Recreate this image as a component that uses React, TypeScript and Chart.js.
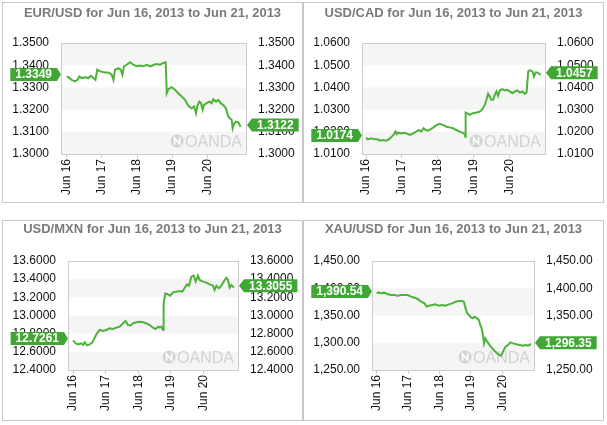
import React, { useEffect, useRef } from 'react';
import { Chart, registerables } from 'chart.js';

Chart.register(...registerables);

// ---------- data ----------
const DAY_LABELS = ['Jun 16', 'Jun 17', 'Jun 18', 'Jun 19', 'Jun 20'];
const DAY_HOURS = [0, 24, 48, 72, 96];

// hours since Jun 16 00:00
const EURUSD_TIME = [0, 1.1, 3.4, 5.7, 7.3, 8.6, 10.2, 12.5, 14.8, 16.4, 18.2, 19.6, 20.9, 22.8, 26.2, 28.4, 30.7, 31.9, 33.0, 35.3, 36.9, 38.0, 39.1, 41.0, 43.2, 45.5, 47.8, 50.1, 52.3, 54.6, 56.9, 59.2, 61.4, 63.7, 66.0, 67.6, 68.3, 69.4, 71.7, 73.9, 76.2, 78.5, 80.8, 83.0, 85.3, 86.9, 88.3, 89.2, 90.5, 91.7, 92.8, 93.7, 95.5, 97.4, 99.0, 100.1, 101.9, 103.5, 105.1, 106.9, 108.7, 110.3, 111.5, 112.6, 113.3, 114.2, 115.6, 117.2, 118.3, 118.8];
const EURUSD_RATE = [1.3349, 1.3346, 1.3334, 1.3327, 1.3334, 1.3349, 1.3342, 1.3346, 1.3342, 1.3352, 1.3342, 1.3334, 1.3380, 1.3372, 1.3367, 1.3367, 1.3357, 1.3334, 1.3380, 1.3387, 1.3380, 1.3357, 1.3395, 1.3402, 1.3413, 1.3402, 1.3395, 1.3398, 1.3395, 1.3402, 1.3395, 1.3401, 1.3405, 1.3402, 1.3410, 1.3413, 1.3274, 1.3292, 1.3301, 1.3289, 1.3274, 1.3259, 1.3244, 1.3217, 1.3206, 1.3214, 1.3184, 1.3217, 1.3236, 1.3229, 1.3199, 1.3221, 1.3229, 1.3236, 1.3229, 1.3247, 1.3236, 1.3244, 1.3229, 1.3221, 1.3206, 1.3169, 1.3161, 1.3154, 1.3116, 1.3136, 1.3146, 1.3142, 1.3127, 1.3122];

const USDCAD_TIME = [0, 1.1, 3.4, 5.6, 7.8, 9.4, 11.2, 13.4, 15.2, 16.7, 18.3, 19.7, 20.5, 21.4, 23.4, 25.7, 27.9, 29.5, 31.3, 33.5, 35.3, 36.8, 38.4, 39.8, 41.3, 42.9, 45.1, 47.3, 49.1, 51.4, 53.6, 55.8, 58.1, 60.3, 62.5, 64.3, 65.9, 66.3, 66.5, 67.4, 69.2, 71.5, 73.7, 75.9, 77.7, 79.3, 80.4, 81.5, 82.6, 83.7, 84.9, 86.0, 87.1, 88.2, 89.3, 91.1, 92.7, 94.2, 96.0, 97.8, 99.4, 100.9, 102.7, 104.5, 106.1, 107.2, 108.3, 109.4, 111.2, 112.1, 113.2, 114.3, 115.7, 116.6];
const USDCAD_RATE = [1.0174, 1.0166, 1.0171, 1.0166, 1.0166, 1.0160, 1.0163, 1.0160, 1.0166, 1.0175, 1.0186, 1.0201, 1.0190, 1.0196, 1.0193, 1.0196, 1.0190, 1.0186, 1.0193, 1.0201, 1.0208, 1.0201, 1.0216, 1.0208, 1.0205, 1.0211, 1.0220, 1.0231, 1.0236, 1.0231, 1.0223, 1.0220, 1.0216, 1.0208, 1.0201, 1.0196, 1.0190, 1.0178, 1.0287, 1.0284, 1.0276, 1.0284, 1.0287, 1.0291, 1.0302, 1.0321, 1.0344, 1.0371, 1.0359, 1.0344, 1.0344, 1.0367, 1.0382, 1.0362, 1.0386, 1.0392, 1.0386, 1.0389, 1.0382, 1.0374, 1.0382, 1.0386, 1.0377, 1.0382, 1.0371, 1.0377, 1.0472, 1.0477, 1.0472, 1.0449, 1.0467, 1.0467, 1.0461, 1.0457];

const USDMXN_TIME = [0, 2.0, 3.7, 6.1, 7.4, 8.6, 10.3, 12.3, 14.2, 15.9, 17.6, 19.6, 22.1, 24.5, 26.9, 29.4, 31.9, 34.3, 36.8, 38.7, 40.4, 42.1, 44.1, 46.6, 49.0, 51.5, 53.9, 56.4, 58.8, 60.8, 62.5, 63.7, 64.9, 66.2, 66.6, 67.9, 69.8, 71.5, 73.5, 75.9, 78.4, 80.4, 82.1, 83.8, 85.3, 87.0, 88.7, 90.2, 91.9, 93.1, 95.6, 98.0, 100.5, 102.9, 104.1, 105.4, 107.3, 109.0, 110.7, 112.7, 113.9, 115.2, 116.4, 117.6, 118.2];
const USDMXN_RATE = [12.7261, 12.6936, 12.6826, 12.6936, 12.6752, 12.7046, 12.6716, 12.6826, 12.7046, 12.7560, 12.8037, 12.8404, 12.8294, 12.8404, 12.8587, 12.8514, 12.8661, 12.8771, 12.9138, 12.9394, 12.8954, 12.8881, 12.9138, 12.9248, 12.9321, 12.9248, 12.9138, 12.8954, 12.8661, 12.8514, 12.8771, 12.8661, 12.8771, 12.8404, 13.1339, 13.2440, 13.2330, 13.2183, 13.2550, 13.2624, 13.2697, 13.2624, 13.3064, 13.3431, 13.3284, 13.4275, 13.4385, 13.3725, 13.4385, 13.3908, 13.3725, 13.3615, 13.3431, 13.3284, 13.2807, 13.3284, 13.2991, 13.3284, 13.3725, 13.4165, 13.3908, 13.3064, 13.3358, 13.3174, 13.3055];

const XAUUSD_TIME = [0, 1.5, 3.3, 5.9, 8.4, 11.0, 13.5, 16.1, 18.6, 21.2, 23.7, 26.3, 28.8, 31.4, 33.9, 36.5, 38.3, 39.8, 42.4, 44.9, 47.5, 50.0, 52.6, 55.1, 57.7, 60.2, 62.8, 65.4, 66.6, 67.9, 69.2, 70.5, 72.2, 73.5, 74.8, 76.1, 78.1, 79.1, 80.2, 81.2, 82.0, 83.0, 84.2, 86.3, 88.3, 90.1, 91.9, 93.4, 95.2, 96.5, 97.8, 98.5, 100.3, 102.1, 104.2, 106.7, 109.3, 111.8, 113.9, 115.7, 117.4, 118.0];
const XAUUSD_PRICE = [1390.54, 1392.5, 1390.7, 1391.9, 1388.8, 1387.6, 1387.6, 1386.4, 1387.6, 1387.6, 1387.6, 1384.6, 1382.7, 1380.3, 1375.4, 1372.3, 1366.2, 1368.0, 1369.3, 1370.5, 1368.0, 1369.3, 1368.0, 1370.5, 1372.3, 1375.4, 1376.6, 1376.6, 1375.4, 1363.1, 1354.0, 1350.9, 1346.0, 1344.8, 1347.9, 1346.0, 1341.7, 1332.6, 1326.4, 1313.0, 1298.9, 1308.1, 1303.2, 1295.8, 1289.8, 1284.9, 1280.6, 1277.5, 1276.3, 1283.7, 1289.8, 1292.8, 1295.8, 1300.8, 1298.9, 1297.1, 1295.8, 1294.6, 1295.8, 1294.6, 1297.1, 1296.35];

// ---------- styles ----------
const LINE_GREEN = '#4db23a';
const CALLOUT_GREEN = '#40a634';
const BAND = '#f5f5f5';
const BORDER = '#cccccc';
const FONT = '"Liberation Sans", Arial, Helvetica, sans-serif';

const fmt4 = (v: number) => Number(v).toFixed(4);
const fmtGold = (v: number) =>
  Number(v).toLocaleString('en-US', { minimumFractionDigits: 2, maximumFractionDigits: 2 });

type Area = { l: number; r: number; t: number; b: number };
type PanelDef = {
  title: string;
  time: number[];
  values: number[];
  yMin: number;
  yMax: number;
  yStep: number;
  fmt: (v: number) => string;
  xMin: number;
  xMax: number;
  left: number;
  top: number;
  area: Area;
  titleY: number;
};

const W = 301;
const H = 201;

const PANELS: PanelDef[] = [
  {
    title: 'EUR/USD for Jun 16, 2013 to Jun 21, 2013',
    time: EURUSD_TIME, values: EURUSD_RATE,
    yMin: 1.30, yMax: 1.35, yStep: 0.01, fmt: fmt4,
    xMin: -3.9, xMax: 122.4,
    left: 2, top: 2, area: { l: 59, r: 244, t: 41, b: 152 }, titleY: 14.5,
  },
  {
    title: 'USD/CAD for Jun 16, 2013 to Jun 21, 2013',
    time: USDCAD_TIME, values: USDCAD_RATE,
    yMin: 1.01, yMax: 1.06, yStep: 0.01, fmt: fmt4,
    xMin: -2.7, xMax: 119.5,
    left: 303, top: 2, area: { l: 59, r: 242, t: 41, b: 152 }, titleY: 14.5,
  },
  {
    title: 'USD/MXN for Jun 16, 2013 to Jun 21, 2013',
    time: USDMXN_TIME, values: USDMXN_RATE,
    yMin: 12.4, yMax: 13.6, yStep: 0.2, fmt: fmt4,
    xMin: -3.7, xMax: 121.3,
    left: 2, top: 220, area: { l: 66, r: 236, t: 41, b: 150 }, titleY: 13,
  },
  {
    title: 'XAU/USD for Jun 16, 2013 to Jun 21, 2013',
    time: XAUUSD_TIME, values: XAUUSD_PRICE,
    yMin: 1250, yMax: 1450, yStep: 50, fmt: fmtGold,
    xMin: -3.6, xMax: 120.2,
    left: 303, top: 220, area: { l: 69, r: 231, t: 41, b: 150 }, titleY: 13,
  },
];

function drawCallout(ctx: CanvasRenderingContext2D, text: string, tipX: number, cy: number, pointsRight: boolean) {
  ctx.save();
  ctx.font = `bold 12px ${FONT}`;
  const tw = ctx.measureText(text).width;
  const bw = tw + 10;
  const h = 13;
  const arrow = pointsRight ? 4 : 5;
  let x0: number, x1: number;
  ctx.beginPath();
  if (pointsRight) {
    x1 = tipX - arrow;
    x0 = x1 - bw;
    ctx.moveTo(x0, cy - h / 2);
    ctx.lineTo(x1, cy - h / 2);
    ctx.lineTo(tipX, cy);
    ctx.lineTo(x1, cy + h / 2);
    ctx.lineTo(x0, cy + h / 2);
  } else {
    x0 = tipX + arrow;
    x1 = x0 + bw;
    ctx.moveTo(x1, cy - h / 2);
    ctx.lineTo(x0, cy - h / 2);
    ctx.lineTo(tipX, cy);
    ctx.lineTo(x0, cy + h / 2);
    ctx.lineTo(x1, cy + h / 2);
  }
  ctx.closePath();
  ctx.fillStyle = CALLOUT_GREEN;
  ctx.fill();
  ctx.fillStyle = '#ffffff';
  ctx.textAlign = 'center';
  ctx.textBaseline = 'middle';
  ctx.fillText(text, (x0 + x1) / 2, cy + 0.5);
  ctx.restore();
}

function makePlugin(p: PanelDef) {
  return {
    id: 'oandaPanel',
    beforeDraw(chart: any) {
      const { ctx, width, height, chartArea: a } = chart;
      const ys = chart.scales.y;
      ctx.save();
      ctx.fillStyle = '#ffffff';
      ctx.fillRect(0, 0, width, height);
      const ticks = ys.ticks;
      for (let i = 0; i < ticks.length - 1; i++) {
        if (i % 2 === 0) {
          const y0 = ys.getPixelForValue(ticks[i].value);
          const y1 = ys.getPixelForValue(ticks[i + 1].value);
          ctx.fillStyle = BAND;
          ctx.fillRect(a.left, y1, a.right - a.left, y0 - y1);
        }
      }
      // watermark
      ctx.font = `16px ${FONT}`;
      ctx.fillStyle = '#d2d2d2';
      ctx.textAlign = 'right';
      ctx.textBaseline = 'alphabetic';
      const tx = a.right - 4;
      const ty = a.bottom - 7;
      ctx.fillText('OANDA', tx, ty);
      const tw = ctx.measureText('OANDA').width;
      const cx = tx - tw - 8;
      const cy = ty - 6;
      ctx.beginPath();
      ctx.arc(cx, cy, 6.5, 0, Math.PI * 2);
      ctx.fill();
      ctx.strokeStyle = '#ffffff';
      ctx.lineWidth = 1.6;
      ctx.beginPath();
      ctx.moveTo(cx - 2.5, cy + 4);
      ctx.lineTo(cx - 2.5, cy - 3);
      ctx.lineTo(cx + 2.5, cy + 3);
      ctx.lineTo(cx + 2.5, cy - 4);
      ctx.stroke();
      ctx.restore();
    },
    afterDatasetsDraw(chart: any) {
      const { ctx, chartArea: a } = chart;
      ctx.save();
      ctx.strokeStyle = BORDER;
      ctx.lineWidth = 1;
      ctx.strokeRect(a.left + 0.5, a.top + 0.5, a.right - a.left, a.bottom - a.top);
      ctx.restore();
    },
    afterDraw(chart: any) {
      const { ctx, width, height, chartArea: a } = chart;
      const ys = chart.scales.y;
      const first = p.values[0];
      const last = p.values[p.values.length - 1];
      drawCallout(ctx, p.fmt(first), a.left, ys.getPixelForValue(first) - 2, true);
      drawCallout(ctx, p.fmt(last), a.right + 1, ys.getPixelForValue(last) - 2, false);
      ctx.save();
      ctx.font = `bold 13px ${FONT}`;
      ctx.fillStyle = '#7a7a7a';
      ctx.textAlign = 'center';
      ctx.textBaseline = 'alphabetic';
      ctx.fillText(p.title, width / 2, p.titleY);
      ctx.strokeStyle = '#c8c8c8';
      ctx.lineWidth = 1;
      ctx.strokeRect(0.5, 0.5, width - 1, height - 1);
      ctx.restore();
    },
  };
}

function PanelChart({ p }: { p: PanelDef }) {
  const ref = useRef<HTMLCanvasElement | null>(null);
  useEffect(() => {
    if (!ref.current) return;
    const tickFont = { family: FONT, size: 12 };
    const yCommon = (pos: 'left' | 'right', widthFn: () => number) => ({
      type: 'linear' as const,
      position: pos,
      min: p.yMin,
      max: p.yMax,
      ticks: {
        stepSize: p.yStep,
        padding: 4,
        font: tickFont,
        color: '#111111',
        callback: (v: any) => p.fmt(Number(v)),
      },
      grid: { display: false },
      border: { display: false },
      afterFit: (s: any) => {
        s.width = widthFn();
      },
    });
    const chart = new Chart(ref.current, {
      type: 'line',
      data: {
        datasets: [
          {
            data: p.time.map((t, i) => ({ x: t, y: p.values[i] })),
            borderColor: LINE_GREEN,
            borderWidth: 2,
            pointRadius: 0,
            tension: 0,
            fill: false,
            yAxisID: 'y',
          },
        ],
      },
      options: {
        responsive: false,
        animation: false,
        devicePixelRatio: 1,
        layout: { padding: { top: p.area.t, left: 0, right: 0, bottom: 0 } },
        plugins: {
          legend: { display: false },
          tooltip: { enabled: false },
          title: { display: false },
        },
        scales: {
          x: {
            type: 'linear',
            min: p.xMin,
            max: p.xMax,
            afterBuildTicks: (s: any) => {
              s.ticks = DAY_HOURS.map((v) => ({ value: v }));
            },
            afterFit: (s: any) => {
              s.height = H - p.area.b;
            },
            ticks: {
              autoSkip: false,
              minRotation: 90,
              maxRotation: 90,
              padding: 1,
              font: tickFont,
              color: '#111111',
              callback: (_v: any, i: number) => DAY_LABELS[i],
            },
            grid: { display: true, drawOnChartArea: false, drawTicks: true, tickLength: 4, color: BORDER },
            border: { display: false },
          },
          y: yCommon('left', () => p.area.l),
          y2: yCommon('right', () => W - p.area.r),
        },
      },
      plugins: [makePlugin(p)],
    } as any);
    return () => chart.destroy();
  }, [p]);
  return (
    <canvas
      ref={ref}
      width={W}
      height={H}
      style={{ position: 'absolute', left: p.left, top: p.top, width: W, height: H }}
    />
  );
}

export default function App() {
  return (
    <div style={{ position: 'absolute', left: 0, top: 0, width: 607, height: 425, background: '#ffffff' }}>
      {PANELS.map((p, i) => (
        <PanelChart key={i} p={p} />
      ))}
    </div>
  );
}
